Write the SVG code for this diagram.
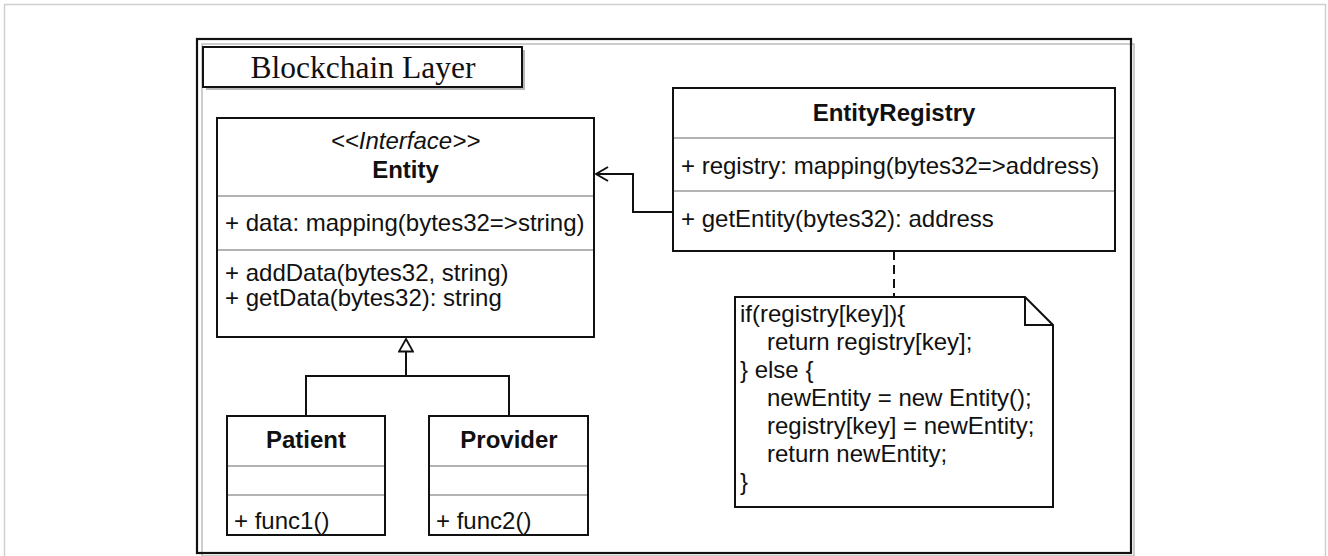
<svg xmlns="http://www.w3.org/2000/svg" width="1328" height="556" viewBox="0 0 1328 556">
<defs>
<style>
.t{font-family:"Liberation Sans",Arial,Helvetica,sans-serif;font-size:24px;fill:#111}
.b{font-weight:bold}
.i{font-style:italic}
.m{text-anchor:middle}
.box{fill:#fff;stroke:#111;stroke-width:2}
.div{stroke:#9a9a9a;stroke-width:1.5;fill:none}
.ln{stroke:#111;stroke-width:2;fill:none}
</style>
<marker id="open" viewBox="0 0 14 16" refX="13" refY="8" markerWidth="14" markerHeight="16" markerUnits="userSpaceOnUse" orient="auto">
<path d="M1,1 L13,8 L1,15" fill="none" stroke="#111" stroke-width="2"/>
</marker>
<marker id="tri" viewBox="0 0 16 15" refX="8" refY="1" markerWidth="16" markerHeight="15" markerUnits="userSpaceOnUse" orient="0">
<path d="M8,1 L15,13.5 L1,13.5 Z" fill="#fff" stroke="#111" stroke-width="1.8"/>
</marker>
</defs>
<rect width="1328" height="556" fill="#fff"/>
<rect x="4.5" y="4.5" width="1321" height="570" fill="none" stroke="#cfcfcf" stroke-width="1.5"/>

<g id="frame">
<rect x="202" y="44" width="932" height="512" fill="none" stroke="#bdbdbd" stroke-width="1.5"/>
<rect x="197" y="39" width="934" height="514" fill="none" stroke="#111" stroke-width="2.2"/>
<rect x="206" y="50" width="319" height="40" fill="#b8b8b8"/>
<rect x="203" y="47" width="319" height="40" class="box"/>
<text x="363" y="78" style="font-family:'Liberation Serif','Times New Roman',serif;font-size:31.5px;fill:#111" text-anchor="middle">Blockchain Layer</text>
</g>

<g id="connectors">
<polyline class="ln" points="673,212 633,212 633,174 596,174" marker-end="url(#open)"/>
<polyline class="ln" points="306,416 306,376 509,376 509,416"/>
<line class="ln" x1="406" y1="376" x2="406" y2="339" marker-end="url(#tri)"/>
<line class="ln" x1="894" y1="251" x2="894" y2="297" stroke-dasharray="9,5" stroke-width="1.6"/>
</g>

<g id="entity">
<rect x="217" y="118" width="377" height="219" class="box"/>
<line class="div" x1="218" y1="196" x2="593" y2="196"/>
<line class="div" x1="218" y1="250" x2="593" y2="250"/>
<text x="405.5" y="149" class="t i m">&lt;&lt;Interface&gt;&gt;</text>
<text x="405.5" y="178" class="t b m">Entity</text>
<text x="225" y="231" class="t">+ data: mapping(bytes32=&gt;string)</text>
<text x="225" y="281" class="t">+ addData(bytes32, string)</text>
<text x="225" y="306" class="t">+ getData(bytes32): string</text>
</g>

<g id="entityregistry">
<rect x="673" y="88" width="442" height="163" class="box"/>
<line class="div" x1="674" y1="138" x2="1114" y2="138"/>
<line class="div" x1="674" y1="191" x2="1114" y2="191"/>
<text x="894" y="121" class="t b m">EntityRegistry</text>
<text x="681" y="174" class="t">+ registry: mapping(bytes32=&gt;address)</text>
<text x="681" y="227" class="t">+ getEntity(bytes32): address</text>
</g>

<g id="patient">
<rect x="227" y="416" width="158" height="119" class="box"/>
<line class="div" x1="228" y1="466" x2="384" y2="466"/>
<line class="div" x1="228" y1="495" x2="384" y2="495"/>
<text x="306" y="448" class="t b m">Patient</text>
<text x="234" y="529" class="t">+ func1()</text>
</g>

<g id="provider">
<rect x="429" y="416" width="159" height="119" class="box"/>
<line class="div" x1="430" y1="466" x2="587" y2="466"/>
<line class="div" x1="430" y1="495" x2="587" y2="495"/>
<text x="509" y="448" class="t b m">Provider</text>
<text x="436" y="529" class="t">+ func2()</text>
</g>

<g id="note">
<path d="M735,297 L1025,297 L1053,325 L1053,507 L735,507 Z" class="box"/>
<path d="M1025,297 L1025,325 L1053,325" class="ln" stroke-width="1.6"/>
<text class="t" x="740" y="322">if(registry[key]){</text>
<text class="t" x="767" y="350">return registry[key];</text>
<text class="t" x="740" y="378">} else {</text>
<text class="t" x="767" y="406">newEntity = new Entity();</text>
<text class="t" x="767" y="434">registry[key] = newEntity;</text>
<text class="t" x="767" y="462">return newEntity;</text>
<text class="t" x="740" y="490">}</text>
</g>
</svg>
